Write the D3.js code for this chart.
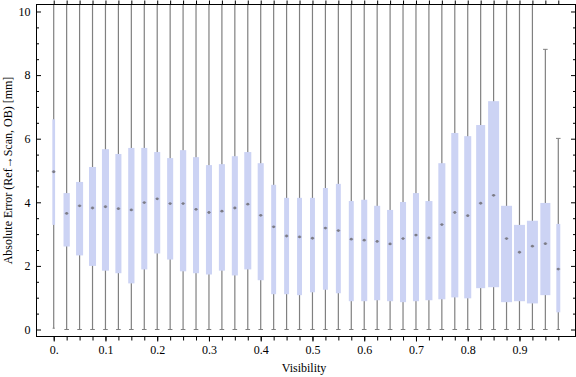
<!DOCTYPE html>
<meta charset="utf-8">
<html>
<head>
    <title>Absolute error vs visibility</title>
    <script src="https://d3js.org/d3.v7.min.js"></script>
    <style>
        body { margin: 0; background: #fff; }
        text { font-family: "Liberation Serif", "Times New Roman", serif; }
    </style>
</head>
<body>
<script>

    // visibility bins (one box each)
    var visibility = [0, 0.025, 0.05, 0.075, 0.1, 0.125, 0.15, 0.175, 0.2, 0.225,
        0.25, 0.275, 0.3, 0.325, 0.35, 0.375, 0.4, 0.425, 0.45, 0.475,
        0.5, 0.525, 0.55, 0.575, 0.6, 0.625, 0.65, 0.675, 0.7, 0.725,
        0.75, 0.775, 0.8, 0.825, 0.85, 0.875, 0.9, 0.925, 0.95, 0.975];

    // tick labels on the bottom frame
    var xTickLabels = ["0.", "0.1", "0.2", "0.3", "0.4", "0.5", "0.6", "0.7", "0.8", "0.9"];
    var yTickLabels = [0, 2, 4, 6, 8, 10];

    // box statistics [mm]
    var upperQuartile = [6.61, 4.29, 4.64, 5.11, 5.67, 5.52, 5.71, 5.71, 5.58, 5.39,
        5.64, 5.42, 5.17, 5.20, 5.45, 5.58, 5.23, 4.55, 4.14, 4.14,
        4.14, 4.45, 4.58, 4.04, 4.08, 3.89, 3.76, 4.01, 4.29, 4.04,
        5.23, 6.18, 6.08, 6.43, 7.18, 3.89, 3.29, 3.42, 3.98, 3.32];
    var lowerQuartile = [3.29, 2.61, 2.33, 2.00, 1.85, 1.77, 1.45, 1.89, 2.39, 2.20,
        1.83, 1.77, 1.73, 1.85, 1.70, 1.89, 1.55, 1.11, 1.11, 1.08,
        1.17, 1.25, 1.14, 0.89, 0.89, 0.92, 0.89, 0.86, 0.89, 0.92,
        0.95, 1.01, 0.98, 1.30, 1.33, 0.86, 0.89, 0.82, 1.08, 0.54];
    var median = [4.96, 3.65, 3.89, 3.82, 3.86, 3.80, 3.76, 3.99, 4.11, 3.96,
        3.96, 3.78, 3.68, 3.72, 3.82, 3.94, 3.59, 3.23, 2.94, 2.91,
        2.87, 3.19, 3.11, 2.84, 2.81, 2.77, 2.69, 2.86, 2.97, 2.88,
        3.30, 3.68, 3.58, 3.97, 4.22, 2.86, 2.43, 2.62, 2.70, 1.90];
    var whiskerMin = [0.04, 0, 0, 0, 0, 0, 0, 0, 0, 0,
        0, 0, 0, 0, 0, 0, 0, 0, 0, 0,
        0, 0, 0, 0, 0, 0, 0, 0, 0, 0,
        0, 0, 0, 0, 0, 0, 0, 0, 0, 0];
    // most maxima run off the top of the plot
    var whiskerMax = [12, 12, 12, 12, 12, 12, 12, 12, 12, 12,
        12, 12, 12, 12, 12, 12, 12, 12, 12, 12,
        12, 12, 12, 12, 12, 12, 12, 12, 12, 12,
        12, 12, 12, 12, 12, 12, 12, 12, 8.81, 6.01];
    // relative box width (sample weight)
    var boxWeight = [0.25, 0.57, 0.64, 0.64, 0.64, 0.55, 0.57, 0.55, 0.55, 0.55,
        0.57, 0.55, 0.55, 0.55, 0.55, 0.64, 0.55, 0.45, 0.45, 0.45,
        0.45, 0.45, 0.45, 0.45, 0.55, 0.55, 0.55, 0.55, 0.55, 0.64,
        0.64, 0.64, 0.64, 0.82, 1.0, 1.0, 1.0, 1.0, 0.91, 0.36];

    var width = 576,
        height = 377;
    // note: "top" is taken by window.top, so prefix these
    var plotLeft = 36.5, plotRight = 575.5, plotTop = 4.5, plotBottom = 336.5;

    var boxes = visibility.map(function (v, i) {
        return {
            v: v,
            q1: lowerQuartile[i],
            q3: upperQuartile[i],
            med: median[i],
            lo: whiskerMin[i],
            hi: whiskerMax[i],
            w: boxWeight[i]
        };
    });

    var svg = d3.select("body").append("svg")
        .attr("width", width)
        .attr("height", height);

    var x = d3.scalePoint()
        .domain(visibility)
        .range([plotLeft, plotRight])
        .padding(1.33);

    var y = d3.scaleLinear()
        .domain([-0.22, 10.22])
        .range([plotBottom, plotTop]);

    var boxW = d3.scaleLinear()
        .domain([0, 1])
        .range([0, x.step() * 0.85]);

    svg.append("clipPath").attr("id", "plot")
        .append("rect")
        .attr("x", plotLeft).attr("y", plotTop)
        .attr("width", plotRight - plotLeft).attr("height", plotBottom - plotTop);

    var plot = svg.append("g").attr("clip-path", "url(#plot)");

    var g = plot.selectAll(".box")
        .data(boxes)
        .enter().append("g")
        .attr("class", "box")
        .attr("transform", function (d) { return "translate(" + x(d.v) + ",0)"; });

    // whiskers
    g.append("line")
        .attr("y1", function (d) { return y(d.lo); })
        .attr("y2", function (d) { return y(d.hi); })
        .attr("stroke", "#808080")
        .attr("stroke-width", 1.2);

    // caps
    g.append("line")
        .attr("x1", function (d) { return -Math.min(2.3, boxW(d.w) / 2 - 0.3); })
        .attr("x2", function (d) { return Math.min(2.3, boxW(d.w) / 2 - 0.3); })
        .attr("y1", function (d) { return y(d.lo); })
        .attr("y2", function (d) { return y(d.lo); })
        .attr("stroke", "#808080");

    g.filter(function (d) { return d.hi < 10; })
        .append("line")
        .attr("x1", -2.3).attr("x2", 2.3)
        .attr("y1", function (d) { return y(d.hi); })
        .attr("y2", function (d) { return y(d.hi); })
        .attr("stroke", "#808080");

    g.append("rect")
        .attr("x", function (d) { return -boxW(d.w) / 2; })
        .attr("width", function (d) { return boxW(d.w); })
        .attr("y", function (d) { return y(d.q3); })
        .attr("height", function (d) { return y(d.q1) - y(d.q3); })
        .attr("fill", "#ccd3f4");

    g.append("line")
        .attr("x1", -2).attr("x2", 2)
        .attr("y1", function (d) { return y(d.med); })
        .attr("y2", function (d) { return y(d.med); })
        .attr("stroke", "#9a9ab0")
        .attr("stroke-width", 0.8);

    g.append("circle")
        .attr("cy", function (d) { return y(d.med); })
        .attr("r", 1.4)
        .attr("fill", "#7c7c86");

    // frame
    svg.append("rect")
        .attr("x", plotLeft).attr("y", plotTop)
        .attr("width", plotRight - plotLeft).attr("height", plotBottom - plotTop)
        .attr("fill", "none")
        .attr("stroke", "#000");

    var minorY = d3.range(0, 10.01, 0.5).filter(function (v) { return v % 2 !== 0; });

    function frameAxis(axis, tx, ty) {
        var a = svg.append("g")
            .attr("transform", "translate(" + tx + "," + ty + ")")
            .call(axis);
        a.select(".domain").remove();
        a.selectAll("line").attr("stroke", "#000");
        a.selectAll("text")
            .attr("fill", "#000")
            .style("font-size", "12px");
        return a;
    }

    frameAxis(d3.axisLeft(y).tickValues(yTickLabels).tickSizeInner(-4.5).tickSizeOuter(0).tickPadding(6), plotLeft, 0);
    frameAxis(d3.axisLeft(y).tickValues(minorY).tickSizeInner(-2.5).tickSizeOuter(0).tickFormat(""), plotLeft, 0);
    frameAxis(d3.axisRight(y).tickValues(yTickLabels).tickSizeInner(-4.5).tickSizeOuter(0).tickFormat(""), plotRight, 0);
    frameAxis(d3.axisRight(y).tickValues(minorY).tickSizeInner(-2.5).tickSizeOuter(0).tickFormat(""), plotRight, 0);

    // bottom: a tick per box, labels every fourth box
    var labelled = visibility.filter(function (v, i) { return i % 4 === 0; });
    frameAxis(d3.axisBottom(x).tickValues(visibility).tickSizeInner(4).tickSizeOuter(0).tickFormat(""), 0, plotBottom);
    frameAxis(d3.axisBottom(x).tickValues(labelled).tickSizeInner(5).tickSizeOuter(0).tickPadding(4)
        .tickFormat(function (v, i) { return xTickLabels[i]; }), 0, plotBottom);
    frameAxis(d3.axisTop(x).tickValues(visibility).tickSizeInner(4).tickSizeOuter(0).tickFormat(""), 0, plotTop);

    // axis titles
    svg.append("text")
        .attr("x", 304)
        .attr("y", 372)
        .attr("text-anchor", "middle")
        .style("font-size", "12px")
        .text("Visibility");

    svg.append("text")
        .attr("transform", "translate(11.5," + ((plotTop + plotBottom) / 2) + ") rotate(-90)")
        .attr("text-anchor", "middle")
        .style("font-size", "12px")
        .text("Absolute Error (Ref\u2192Scan, OB) [mm]");

</script>
</body>
</html>
